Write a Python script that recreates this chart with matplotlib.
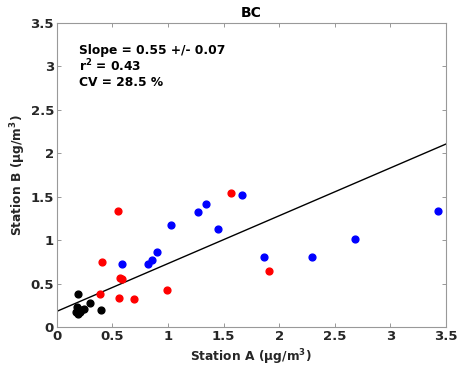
import matplotlib
matplotlib.use("Agg")
import matplotlib.pyplot as plt
import numpy as np

# station A / station B pairs, grouped by colour in the reference
black_a = [0.17, 0.19, 0.18, 0.22, 0.24, 0.20, 0.21, 0.19, 0.30, 0.40]
black_b = [0.17, 0.15, 0.23, 0.20, 0.21, 0.19, 0.17, 0.38, 0.28, 0.20]

red_a = [0.55, 0.41, 0.39, 0.57, 0.59, 0.56, 0.69, 0.99, 1.57, 1.905]
red_b = [1.33, 0.75, 0.38, 0.56, 0.55, 0.33, 0.32, 0.43, 1.54, 0.64]

blue_a = [0.585, 0.82, 0.86, 0.90, 1.03, 1.27, 1.34, 1.45, 1.665, 1.86, 2.30, 2.68, 3.43]
blue_b = [0.72, 0.73, 0.77, 0.86, 1.17, 1.32, 1.42, 1.13, 1.52, 0.80, 0.81, 1.01, 1.33]

slope, intercept = 0.55, 0.18
stats_text = "Slope = 0.55 +/- 0.07\nr$^2$ = 0.43\nCV = 28.5 %"

plt.rcParams["font.weight"] = "bold"
plt.rcParams["mathtext.default"] = "bf"

fig = plt.figure(figsize=(4.62, 3.75), dpi=100)
ax = fig.add_axes([0.123, 0.128, 0.842, 0.811])

ax.scatter(black_a, black_b, s=24, color="k", zorder=3)
ax.scatter(red_a, red_b, s=24, color="r", zorder=3)
ax.scatter(blue_a, blue_b, s=24, color="b", zorder=3)

xs = np.array([0.0, 3.5])
ax.plot(xs, slope * xs + intercept, color="k", lw=1)

ax.text(0.2, 3.26, stats_text, fontsize=8.8, fontweight="bold", va="top", ha="left",
        linespacing=1.1)

ax.set_xlim(0, 3.5)
ax.set_ylim(0, 3.5)
ticks = np.arange(0, 3.51, 0.5)
ax.set_xticks(ticks)
ax.set_yticks(ticks)
ax.set_xticklabels(["0", "0.5", "1", "1.5", "2", "2.5", "3", "3.5"])
ax.set_yticklabels(["0", "0.5", "1", "1.5", "2", "2.5", "3", "3.5"])
ax.tick_params(direction="in", top=True, right=True, length=3, width=0.6,
               color="#888888", labelsize=9.5, pad=2, labelcolor="#262626")
for label in ax.get_xticklabels() + ax.get_yticklabels():
    label.set_fontweight("bold")
for sp in ax.spines.values():
    sp.set_color("#999999")
    sp.set_linewidth(0.8)

ax.set_title("BC", fontsize=10, fontweight="bold", pad=4)
ax.set_xlabel("Station A (μg/m$^{3}$)", fontsize=8.8, fontweight="bold", color="#262626", labelpad=3)
ax.set_ylabel("Station B (μg/m$^{3}$)", fontsize=8.8, fontweight="bold", color="#262626", labelpad=2)

fig.savefig("out.png", dpi=100)
